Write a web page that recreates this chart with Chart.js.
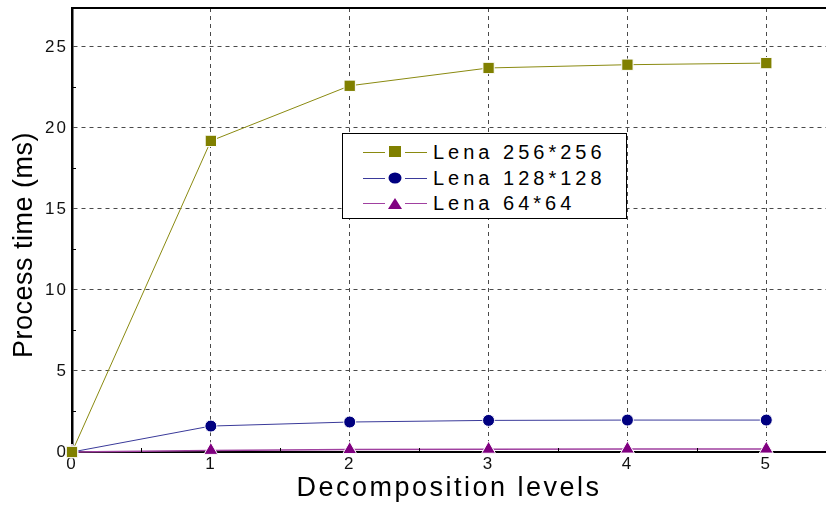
<!DOCTYPE html>
<html>
<head>
<meta charset="utf-8">
<script src="https://cdn.jsdelivr.net/npm/chart.js@4.4.1/dist/chart.umd.min.js"></script>
<style>
  html, body { margin: 0; padding: 0; background: #fff; }
  #wrap { position: relative; width: 826px; height: 506px; }
  #legend {
    position: absolute; left: 342px; top: 133px; width: 283px; height: 84px;
    border: 1px solid #000; background: #fff;
    font-family: "Liberation Sans", Arial, sans-serif; font-size: 20px; letter-spacing: 4px; color: #000;
  }
  .item { position: absolute; left: 0; height: 24px; width: 282px; }
  .item svg { position: absolute; left: 18px; top: 0; }
  .item span { position: absolute; left: 90px; top: 0; line-height: 24px; }
</style>
</head>
<body>
<div id="wrap">
  <canvas id="chart" width="826" height="506"></canvas>
  <div id="legend"></div>
</div>
<script>
// --- datos ---
const LEVELS = [0, 1, 2, 3, 4, 5];
const LENA_256 = [0, 19.2, 22.6, 23.7, 23.9, 24.0];
const LENA_128 = [0, 1.6, 1.85, 1.95, 1.97, 1.97];
const LENA_64  = [0, 0.1, 0.15, 0.17, 0.18, 0.18];
const X_TICKS = [0, 1, 2, 3, 4, 5];
const Y_TICKS = [0, 5, 10, 15, 20, 25];

const FONT = "'Liberation Sans', Arial, sans-serif";

const series = [
  { label: "Lena 256*256", data: LENA_256, color: "#808000", line: "#8a8a10", style: "rect", radius: 8, width: 1 },
  { label: "Lena 128*128", data: LENA_128, color: "#000080", line: "#3a3a9a", style: "circle", radius: 6, width: 1 },
  { label: "Lena 64*64",   data: LENA_64,  color: "#800080", line: "#a040a0", style: "triangle", radius: 8, width: 1.5 },
];

// espaciado de letras por elemento (títulos vs ticks)
function withSpacing(scale, method, spacing, dy = 0) {
  const orig = scale[method];
  scale[method] = function (...args) {
    this.ctx.save();
    this.ctx.letterSpacing = spacing;
    this.ctx.translate(0, dy);
    orig.apply(this, args);
    this.ctx.restore();
  };
}

// minor ticks + top border
const frame = {
  id: "frame",
  beforeDraw(chart) {
    const { x, y } = chart.scales;
    if (!x._spaced) {
      withSpacing(x, "drawTitle", "2.5px");
      withSpacing(x, "drawLabels", "2px");
      withSpacing(y, "drawTitle", "0.5px", 15);
      withSpacing(y, "drawLabels", "2px");
      x._spaced = y._spaced = true;
    }
  },
  afterDraw(chart) {
    const { ctx, chartArea: a, scales: { x, y } } = chart;
    ctx.save();
    ctx.strokeStyle = "#000";
    ctx.lineWidth = 1;
    ctx.beginPath();
    for (let v = 0.5; v < 5.43; v += 1) {
      const px = Math.round(x.getPixelForValue(v)) + 0.5;
      ctx.moveTo(px, a.bottom); ctx.lineTo(px, a.bottom - 4);
    }
    for (let v = 2.5; v < 27.4; v += 5) {
      const py = Math.round(y.getPixelForValue(v)) + 0.5;
      ctx.moveTo(a.left, py); ctx.lineTo(a.left + 4, py);
    }
    ctx.stroke();
    ctx.lineWidth = 2;
    ctx.beginPath();
    ctx.moveTo(a.left, a.top); ctx.lineTo(a.right, a.top);
    ctx.stroke();
    ctx.restore();
  }
};

const grid = { color: "#4a4a4a", lineWidth: 1, drawTicks: false };

new Chart(document.getElementById("chart"), {
  type: "line",
  data: {
    datasets: series.map(s => ({
      label: s.label,
      data: LEVELS.map((lv, i) => ({ x: lv, y: s.data[i] })),
      borderColor: s.line,
      borderWidth: s.width,
      pointStyle: s.style,
      pointRadius: s.radius,
      pointBackgroundColor: s.color,
      pointBorderColor: "#fff",
      pointBorderWidth: 1,
      tension: 0,
      clip: false,
    }))
  },
  options: {
    responsive: false,
    animation: false,
    layout: { autoPadding: false, padding: { top: 8, right: 0, left: 0, bottom: 0 } },
    plugins: { legend: { display: false }, tooltip: { enabled: false } },
    scales: {
      x: {
        type: "linear",
        min: 0, max: 5.43,
        afterBuildTicks: sc => { sc.ticks = X_TICKS.map(v => ({ value: v })); },
        afterFit: sc => { sc.height = 54; sc.paddingLeft = 0; sc.paddingRight = 0; },
        grid: grid,
        border: { color: "#000", width: 2, dash: [4, 4] },
        ticks: { color: "#111", font: { family: FONT, size: 17 }, padding: 2, maxRotation: 0 },
        title: { display: true, text: "Decomposition levels", color: "#000",
                 font: { family: FONT, size: 27 }, padding: { top: 0, bottom: 1 } },
      },
      y: {
        min: 0, max: 27.4,
        afterBuildTicks: sc => { sc.ticks = Y_TICKS.map(v => ({ value: v })); },
        afterFit: sc => { sc.width = 72; sc.paddingTop = 0; sc.paddingBottom = 0; },
        grid: grid,
        border: { color: "#000", width: 2.5, dash: [4, 4] },
        ticks: { color: "#111", font: { family: FONT, size: 17 }, padding: 4 },
        title: { display: true, text: "Process time (ms)", color: "#000",
                 font: { family: FONT, size: 27 }, padding: { top: 8, bottom: 0 } },
      }
    }
  },
  plugins: [frame]
});

// leyenda HTML
const legendEl = document.getElementById("legend");
series.forEach((s, i) => {
  const item = document.createElement("div");
  item.className = "item";
  item.style.top = (6 + i * 25.5) + "px";
  let marker;
  if (s.style === "rect") marker = `<rect x="28" y="6" width="12" height="11" fill="${s.color}"/>`;
  else if (s.style === "circle") marker = `<ellipse cx="34" cy="12" rx="6.5" ry="5.5" fill="${s.color}"/>`;
  else marker = `<polygon points="27,18 34,7 41,18" fill="${s.color}"/>`;
  item.innerHTML = `
    <svg width="68" height="24">
      <line x1="2" y1="12.5" x2="24" y2="12.5" stroke="${s.line}" stroke-width="1"/>
      <line x1="44" y1="12.5" x2="66" y2="12.5" stroke="${s.line}" stroke-width="1"/>
      ${marker}
    </svg>
    <span>${s.label}</span>`;
  legendEl.appendChild(item);
});
</script>
</body>
</html>
